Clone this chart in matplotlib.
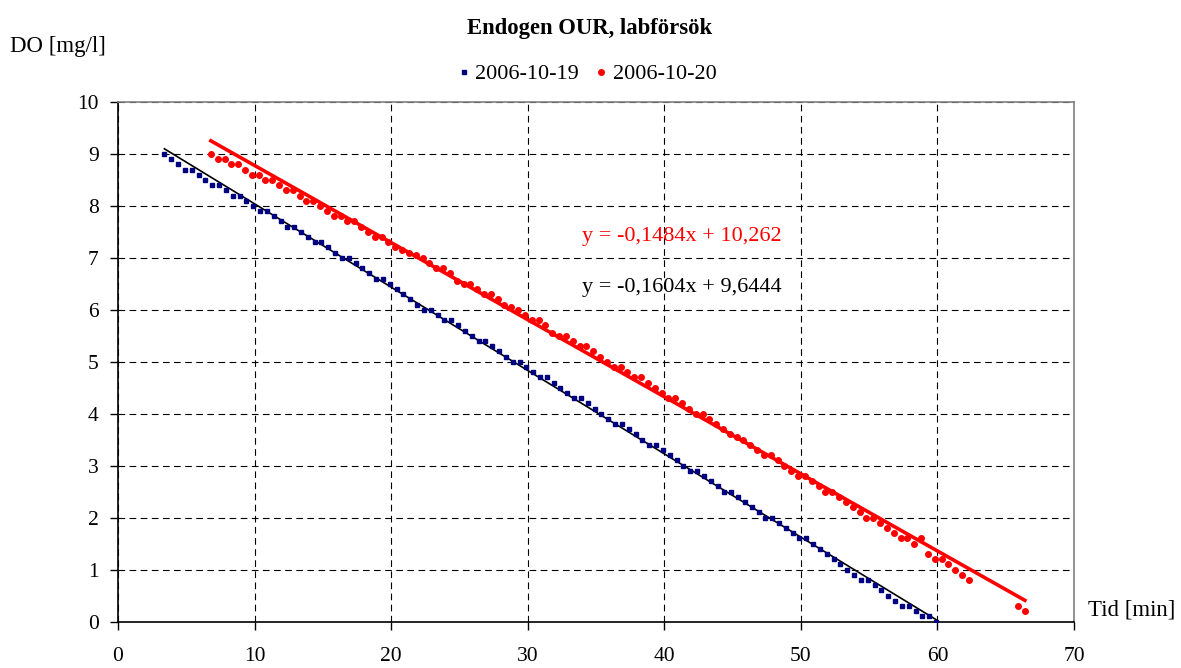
import matplotlib
matplotlib.use("Agg")
import matplotlib.pyplot as plt
import numpy as np

plt.rcParams['font.family'] = ['Liberation Serif', 'DejaVu Serif']

# --- data ---
t_19 = [3.4, 3.9, 4.4, 4.9, 5.4, 5.9, 6.4, 6.9, 7.4, 7.9,
        8.4, 8.9, 9.4, 9.9, 10.4, 10.9, 11.4, 11.9, 12.4, 12.9,
        13.4, 13.9, 14.4, 14.9, 15.4, 15.9, 16.4, 16.9, 17.4, 17.9,
        18.4, 18.9, 19.4, 19.9, 20.4, 20.9, 21.4, 21.9, 22.4, 22.9,
        23.4, 23.9, 24.4, 24.9, 25.4, 25.9, 26.4, 26.9, 27.4, 27.9,
        28.4, 28.9, 29.4, 29.9, 30.4, 30.9, 31.4, 31.9, 32.4, 32.9,
        33.4, 33.9, 34.4, 34.9, 35.4, 35.9, 36.4, 36.9, 37.4, 37.9,
        38.4, 38.9, 39.4, 39.9, 40.4, 40.9, 41.4, 41.9, 42.4, 42.9,
        43.4, 43.9, 44.4, 44.9, 45.4, 45.9, 46.4, 46.9, 47.4, 47.9,
        48.4, 48.9, 49.4, 49.9, 50.4, 50.9, 51.4, 51.9, 52.4, 52.9,
        53.4, 53.9, 54.4, 54.9, 55.4, 55.9, 56.4, 56.9, 57.4, 57.9,
        58.4, 58.9, 59.4, 59.9]
do_19 = [9.0, 8.9, 8.8, 8.7, 8.7, 8.6, 8.5, 8.4, 8.4, 8.3,
         8.2, 8.2, 8.1, 8.0, 7.9, 7.9, 7.8, 7.7, 7.6, 7.6,
         7.5, 7.4, 7.3, 7.3, 7.2, 7.1, 7.0, 7.0, 6.9, 6.8,
         6.7, 6.6, 6.6, 6.5, 6.4, 6.3, 6.2, 6.1, 6.0, 6.0,
         5.9, 5.8, 5.8, 5.7, 5.6, 5.5, 5.4, 5.4, 5.3, 5.2,
         5.1, 5.0, 5.0, 4.9, 4.8, 4.7, 4.7, 4.6, 4.5, 4.4,
         4.3, 4.3, 4.2, 4.1, 4.0, 3.9, 3.8, 3.8, 3.7, 3.6,
         3.5, 3.4, 3.4, 3.3, 3.2, 3.1, 3.0, 2.9, 2.9, 2.8,
         2.7, 2.6, 2.5, 2.5, 2.4, 2.3, 2.2, 2.1, 2.0, 2.0,
         1.9, 1.8, 1.7, 1.6, 1.6, 1.5, 1.4, 1.3, 1.2, 1.1,
         1.0, 0.9, 0.8, 0.8, 0.7, 0.6, 0.5, 0.4, 0.3, 0.3,
         0.2, 0.1, 0.1, 0.0]

t_20 = [6.8, 7.3, 7.8, 8.3, 8.8, 9.3, 9.8, 10.3, 10.8, 11.3,
        11.8, 12.3, 12.8, 13.3, 13.8, 14.3, 14.8, 15.3, 15.8, 16.3,
        16.8, 17.3, 17.8, 18.3, 18.8, 19.3, 19.8, 20.3, 20.8, 21.3,
        21.8, 22.3, 22.8, 23.3, 23.8, 24.3, 24.8, 25.3, 25.8, 26.3,
        26.8, 27.3, 27.8, 28.3, 28.8, 29.3, 29.8, 30.3, 30.8, 31.3,
        31.8, 32.3, 32.8, 33.3, 33.8, 34.3, 34.8, 35.3, 35.8, 36.3,
        36.8, 37.3, 37.8, 38.3, 38.8, 39.3, 39.8, 40.3, 40.8, 41.3,
        41.8, 42.3, 42.8, 43.3, 43.8, 44.3, 44.8, 45.3, 45.8, 46.3,
        46.8, 47.3, 47.8, 48.3, 48.8, 49.3, 49.8, 50.3, 50.8, 51.3,
        51.8, 52.3, 52.8, 53.3, 53.8, 54.3, 54.8, 55.3, 55.8, 56.3,
        56.8, 57.3, 57.8, 58.3, 58.8, 59.3, 59.8, 60.3, 60.8, 61.3,
        61.8, 62.3, 65.9, 66.4]
do_20 = [9.0, 8.9, 8.9, 8.8, 8.8, 8.7, 8.6, 8.6, 8.5, 8.5,
         8.4, 8.3, 8.3, 8.2, 8.1, 8.1, 8.0, 7.9, 7.8, 7.8,
         7.7, 7.7, 7.6, 7.5, 7.4, 7.4, 7.3, 7.2, 7.15, 7.1,
         7.05, 7.0, 6.9, 6.8, 6.8, 6.7, 6.55, 6.5, 6.5, 6.4,
         6.3, 6.3, 6.2, 6.1, 6.05, 6.0, 5.9, 5.8, 5.8, 5.7,
         5.55, 5.5, 5.5, 5.4, 5.3, 5.3, 5.2, 5.1, 5.0, 4.9,
         4.9, 4.8, 4.7, 4.7, 4.6, 4.5, 4.4, 4.3, 4.3, 4.2,
         4.1, 4.0, 4.0, 3.9, 3.8, 3.7, 3.6, 3.55, 3.5, 3.4,
         3.3, 3.2, 3.2, 3.1, 3.0, 2.9, 2.8, 2.8, 2.7, 2.6,
         2.5, 2.5, 2.4, 2.3, 2.2, 2.1, 2.0, 2.0, 1.9, 1.8,
         1.7, 1.6, 1.6, 1.5, 1.6, 1.3, 1.2, 1.2, 1.1, 1.0,
         0.9, 0.8, 0.3, 0.2]

# trendline coefficients (from the equation labels)
slope_19, icpt_19 = -0.1604, 9.6444
slope_20, icpt_20 = -0.1484, 10.262
eq_19 = "y = -0,1604x + 9,6444"
eq_20 = "y = -0,1484x + 10,262"

labels = ["2006-10-19", "2006-10-20"]
x_ticks = [0, 10, 20, 30, 40, 50, 60, 70]
y_ticks = [0, 1, 2, 3, 4, 5, 6, 7, 8, 9, 10]

# --- figure ---
fig = plt.figure(figsize=(11.81, 6.68), dpi=100)
ax = fig.add_axes([0.0999, 0.0696, 0.8095, 0.7777])

ax.set_xlim(0, 70)
ax.set_ylim(0, 10)
ax.set_xticks(x_ticks)
ax.set_yticks(y_ticks)
ax.grid(True, color='black', linestyle=(0, (6, 4)), linewidth=0.8)
ax.set_axisbelow(True)

# trendlines
x19 = np.array([t_19[0], t_19[-1]])
x20 = np.array([t_20[0], t_20[-1]])
ax.plot(x19, slope_19 * x19 + icpt_19, color='black', linewidth=1.2, zorder=3)
ax.plot(x20, slope_20 * x20 + icpt_20, color='#ff0000', linewidth=2.6, zorder=3)

# data series
ax.plot(t_19, do_19, linestyle='none', marker='s', markersize=2.5,
        color='#000080', label=labels[0], zorder=4)
ax.plot(t_20, do_20, linestyle='none', marker='o', markersize=4.0,
        color='#ff0000', label=labels[1], zorder=4)

# spines
for s in ['left', 'bottom']:
    ax.spines[s].set_color('black')
    ax.spines[s].set_linewidth(1.2)
for s in ['top', 'right']:
    ax.spines[s].set_color('#808080')
    ax.spines[s].set_linewidth(1.2)

ax.tick_params(axis='both', direction='out', length=6, width=1.0,
               labelsize=15.5, colors='black')
ax.tick_params(axis='x', pad=12.5)
ax.tick_params(axis='y', pad=8)

# equation labels
ax.text(0.485, 0.742, eq_20, transform=ax.transAxes, color='#ff0000',
        fontsize=16, ha='left', va='center')
ax.text(0.485, 0.642, eq_19, transform=ax.transAxes, color='black',
        fontsize=16, ha='left', va='center')

# title / axis labels
fig.text(0.4995, 0.958, "Endogen OUR, labförsök", ha='center', va='center',
         fontsize=16.3, fontweight='bold')
fig.text(0.0085, 0.930, "DO [mg/l]", ha='left', va='center', fontsize=16.5)
fig.text(0.921, 0.087, "Tid [min]", ha='left', va='center', fontsize=16.5)

leg = fig.legend(loc='center', bbox_to_anchor=(0.4975, 0.889), ncol=2,
                 frameon=False, fontsize=16, handlelength=0.5,
                 handletextpad=0.25, columnspacing=0.75, markerscale=1.0)

fig.savefig("out.png", dpi=100)
